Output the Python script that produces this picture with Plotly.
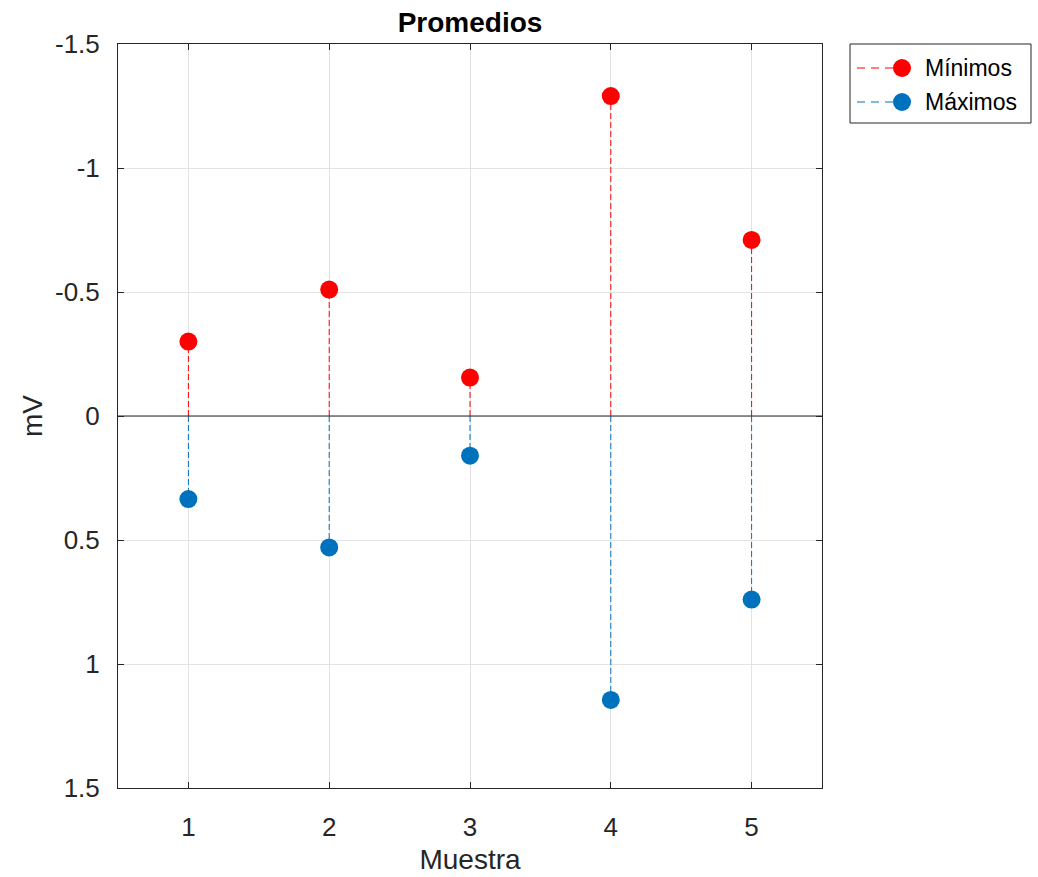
import plotly.graph_objects as go

muestras = [1, 2, 3, 4, 5]
minimos = [-0.30, -0.51, -0.155, -1.29, -0.71]
maximos = [0.335, 0.53, 0.16, 1.145, 0.74]
y_tickvals = [-1.5, -1, -0.5, 0, 0.5, 1, 1.5]
y_ticktext = ["-1.5", "-1", "-0.5", "0", "0.5", "1", "1.5"]

FONT = "Liberation Sans, Arial, sans-serif"
series = [("Mínimos", minimos, "#ff0000"), ("Máximos", maximos, "#0072bd")]

ML, MR, MT, MB = 118, 216, 44, 89
W, H = 1038, 877
PW, PH = W - ML - MR, H - MT - MB


def px2x(px):
    return (px - ML) / PW


def py2y(py):
    return 1 - (py - MT) / PH


fig = go.Figure()
for name, vals, color in series:
    sx, sy = [], []
    for x, y in zip(muestras, vals):
        sx += [x, x, None]
        sy += [0, y, None]
    fig.add_trace(go.Scatter(
        x=sx, y=sy, mode="lines", showlegend=False, hoverinfo="skip",
        line=dict(color=color, width=1, dash="6px,3px"),
    ))
    fig.add_trace(go.Scatter(
        x=muestras, y=vals, mode="markers", showlegend=False, name=name,
        marker=dict(color=color, size=18, opacity=1, line=dict(width=0)),
    ))

axis_common = dict(
    showline=True, linecolor="#262626", linewidth=1, mirror="ticks",
    ticks="inside", ticklen=6, tickcolor="#262626",
    showgrid=True, gridcolor="#e3e3e3", gridwidth=1,
    tickfont=dict(family=FONT, size=26, color="#262626"),
    zeroline=False, automargin=False,
)

fig.update_layout(
    width=W, height=H,
    paper_bgcolor="white", plot_bgcolor="white",
    margin=dict(l=ML, r=MR, t=MT, b=MB, autoexpand=False),
    title=dict(text="<b>Promedios</b>", x=(ML + ML + PW) / 2 / W, xanchor="center",
               y=1 - 22 / H, yanchor="middle",
               font=dict(family=FONT, size=28, color="black")),
    xaxis=dict(range=[0.5, 5.5], tickvals=muestras, ticktext=[str(m) for m in muestras],
               ticklabelstandoff=16,
               title=dict(text="Muestra", font=dict(family=FONT, size=28, color="#262626"), standoff=8),
               **axis_common),
    yaxis=dict(range=[1.5, -1.5], tickvals=y_tickvals, ticktext=y_ticktext,
               ticklabelstandoff=12,
               title=dict(text="mV", font=dict(family=FONT, size=28, color="#262626"), standoff=4),
               **axis_common),
    showlegend=False,
)

fig.add_shape(type="line", xref="paper", x0=0, x1=1, yref="y", y0=0, y1=0,
              line=dict(color="#262626", width=1.2), layer="above")

# legend box (drawn manually to match MATLAB layout)
fig.add_shape(type="rect", xref="paper", yref="paper",
              x0=px2x(850), x1=px2x(1031), y0=py2y(123), y1=py2y(44),
              line=dict(color="#262626", width=1), fillcolor="white")
for i, (name, vals, color) in enumerate(series):
    ry = py2y(68 + 34 * i)
    fig.add_shape(type="line", xref="paper", yref="paper",
                  x0=px2x(857), x1=px2x(894), y0=ry, y1=ry,
                  line=dict(color=color, width=1, dash="8px,6px"))
    fig.add_shape(type="circle", xref="paper", yref="paper",
                  xsizemode="pixel", ysizemode="pixel",
                  xanchor=px2x(902), yanchor=ry, x0=-9, x1=9, y0=-9, y1=9,
                  fillcolor=color, line=dict(width=0))
    fig.add_annotation(text=name, xref="paper", yref="paper",
                       x=px2x(923), y=ry, xanchor="left", yanchor="middle",
                       showarrow=False,
                       font=dict(family=FONT, size=23, color="black"))

fig.write_html("out.html", config={"displayModeBar": False},
               post_script="document.body.style.margin='0';document.body.style.overflow='hidden';")
